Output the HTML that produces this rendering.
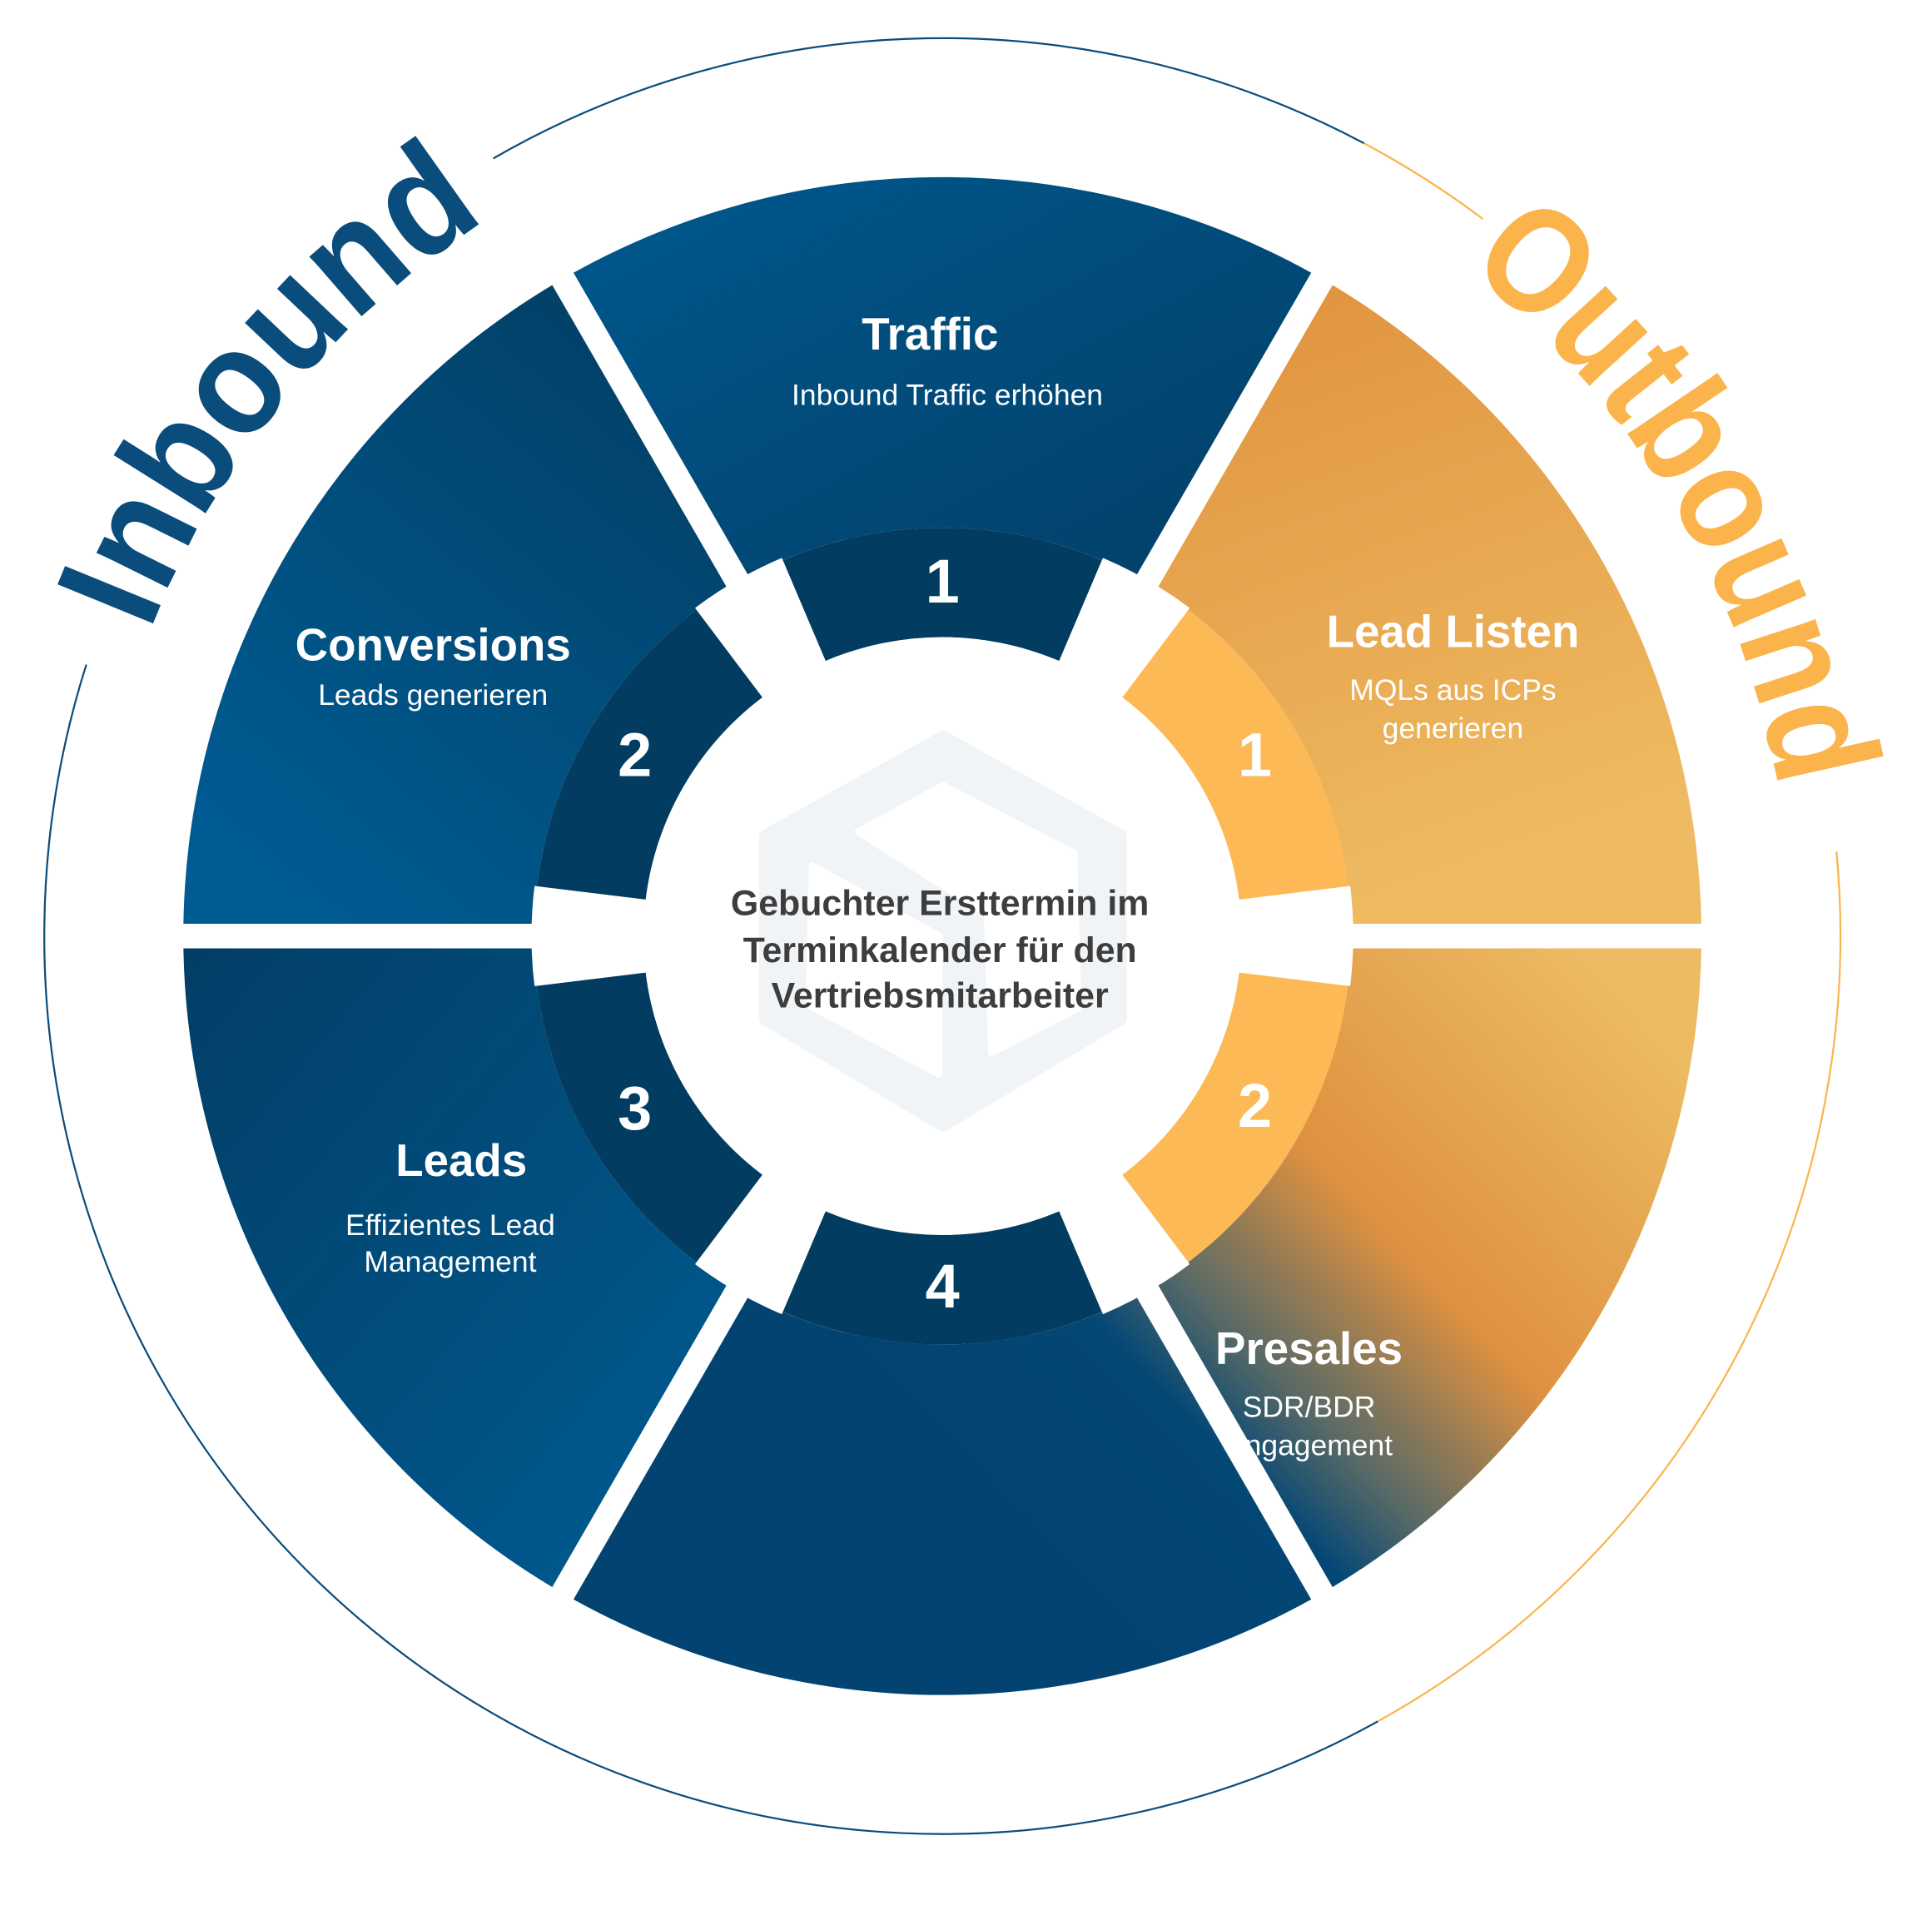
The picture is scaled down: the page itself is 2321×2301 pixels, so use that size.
<!DOCTYPE html>
<html><head><meta charset="utf-8"><style>
html,body{margin:0;padding:0;background:#fff;}
svg{display:block}
text{font-family:"Liberation Sans",sans-serif;}
</style></head><body>
<svg id="s" width="2321" height="2301" viewBox="0 0 1550 1536.6" xmlns="http://www.w3.org/2000/svg">
<defs>
<linearGradient id="gb" x1="0" y1="0" x2="1" y2="1"><stop offset="0" stop-color="#00598f"/><stop offset="1" stop-color="#023e66"/></linearGradient>
<linearGradient id="gb2" x1="1" y1="0" x2="0.3" y2="1"><stop offset="0" stop-color="#023c60"/><stop offset="1" stop-color="#005b92"/></linearGradient>
<linearGradient id="gb3" x1="0" y1="0" x2="1" y2="1"><stop offset="0" stop-color="#023e66"/><stop offset="1" stop-color="#005d94"/></linearGradient>
<linearGradient id="go" x1="0" y1="0" x2="0.3" y2="1"><stop offset="0" stop-color="#e0903c"/><stop offset="1" stop-color="#eebb62"/></linearGradient>
<linearGradient id="gp" gradientUnits="userSpaceOnUse" x1="860" y1="1270" x2="1330" y2="820"><stop offset="0" stop-color="#024372"/><stop offset="0.24" stop-color="#034775"/><stop offset="0.36" stop-color="#5a6a66"/><stop offset="0.58" stop-color="#df9140"/><stop offset="1" stop-color="#ecbb62"/></linearGradient>
</defs>
<g transform="scale(0.987)">
<g id="shapes"></g>
<g fill="#fff" text-anchor="middle">
<text x="756" y="284" font-size="37" font-weight="bold">Traffic</text>
<text x="770" y="329" font-size="24">Inbound Traffic erhöhen</text>
<text x="352" y="537" font-size="37" font-weight="bold">Conversions</text>
<text x="352" y="573" font-size="24">Leads generieren</text>
<text x="1181" y="526" font-size="37" font-weight="bold">Lead Listen</text>
<text x="1181" y="569" font-size="24">MQLs aus ICPs</text>
<text x="1181" y="600" font-size="24">generieren</text>
<text x="375" y="956" font-size="37" font-weight="bold">Leads</text>
<text x="366" y="1004" font-size="24">Effizientes Lead</text>
<text x="366" y="1034" font-size="24">Management</text>
<text x="1064" y="1109" font-size="37" font-weight="bold">Presales</text>
<text x="1064" y="1152" font-size="24">SDR/BDR</text>
<text x="1064" y="1183" font-size="24">Engagement</text>
<g font-size="50" font-weight="bold">
<text x="766" y="490">1</text><text x="516" y="631">2</text><text x="516" y="918">3</text><text x="766" y="1063">4</text>
<text x="1020" y="631">1</text><text x="1020" y="916">2</text>
</g>
</g>
<g fill="#3d3d3d" text-anchor="middle" font-size="29" font-weight="bold">
<text x="764" y="744">Gebuchter Ersttermin im</text>
<text x="764" y="782">Terminkalender für den</text>
<text x="764" y="819">Vertriebsmitarbeiter</text>
</g>
<g font-size="122" font-weight="bold">
<path id="pin" d="" fill="none"/><path id="pout" d="" fill="none"/>
<text fill="#0a4c7c"><textPath href="#pin" textLength="440" lengthAdjust="spacingAndGlyphs">Inbound</textPath></text>
<text fill="#fbb44c"><textPath href="#pout" textLength="506" lengthAdjust="spacingAndGlyphs">Outbound</textPath></text>
</g>
</g>
</svg>
<script>
var cx=766,cy=761;
function P(r,a){a=a*Math.PI/180;return [cx+r*Math.cos(a),cy+r*Math.sin(a)];}
function sec(r1,r2,a1,a2){var l=(a2-a1)>180?1:0;var p1=P(r2,a1),p2=P(r2,a2),p3=P(r1,a2),p4=P(r1,a1);
return "M"+p1+" A"+r2+" "+r2+" 0 "+l+" 1 "+p2+" L"+p3+" A"+r1+" "+r1+" 0 "+l+" 0 "+p4+"Z";}
function arc(r,a1,a2){var l=(a2-a1)>180?1:0;return "M"+P(r,a1)+" A"+r+" "+r+" 0 "+l+" 1 "+P(r,a2);}
var h="";
h+='<path d="'+sec(332,617,240,300)+'" fill="url(#gb)"/>';
h+='<path d="'+sec(332,617,180,240)+'" fill="url(#gb2)"/>';
h+='<path d="'+sec(332,617,120,180)+'" fill="url(#gb3)"/>';
h+='<path d="'+sec(332,617,300,360)+'" fill="url(#go)"/>';
h+='<path d="'+sec(332,617,0,120)+'" fill="url(#gp)"/>';
var ring=[[247,293,"#023c60"],[187,233,"#023c60"],[127,173,"#023c60"],[67,113,"#023c60"],[307,353,"#fdb955"],[7,53,"#fdb955"]];
ring.forEach(function(s){h+='<path d="'+sec(243,332,s[0],s[1])+'" fill="'+s[2]+'"/>';});
[0,60,120,180,240,300].forEach(function(a){
var p1=P(334,a-7),p2=P(334,a+7);
h+='<path d="M'+cx+','+cy+' L'+p1+' A334 334 0 0 1 '+p2+'Z" fill="#fff"/>';
var q=P(640,a);
h+='<line x1="'+cx+'" y1="'+cy+'" x2="'+q[0]+'" y2="'+q[1]+'" stroke="#fff" stroke-width="20"/>';});
h+='<circle cx="'+cx+'" cy="'+cy+'" r="243" fill="#fff"/>';
h+='<path d="M766.6,600 L910,680 L910,828 L766.6,914 L623,828 L623,680Z" fill="#f1f4f7" stroke="#f1f4f7" stroke-width="12" stroke-linejoin="round"/>';
h+='<path d="M697.8,676.2 L766.6,638.9 L872.6,693.6 L876.1,819.5 L806.2,855.6 L802.7,742.6Z" fill="#fff" stroke="#fff" stroke-width="6" stroke-linejoin="round"/>';
h+='<path d="M660.5,704.1 L657.7,817.1 L763.1,873 L763.1,761.2Z" fill="#fff" stroke="#fff" stroke-width="6" stroke-linejoin="round"/>';
h+='<path d="'+arc(730,240,298)+'" fill="none" stroke="#0a4c7c" stroke-width="1.5"/>';
h+='<path d="'+arc(730,298,307)+'" fill="none" stroke="#fbb44c" stroke-width="1.5"/>';
h+='<path d="'+arc(730,354.6,421)+'" fill="none" stroke="#fbb44c" stroke-width="1.5"/>';
h+='<path d="'+arc(730,61,197.6)+'" fill="none" stroke="#0a4c7c" stroke-width="1.5"/>';
document.getElementById("shapes").innerHTML=h;
document.getElementById("pin").setAttribute("d",arc(690,201,260));
document.getElementById("pout").setAttribute("d",arc(690,308,380));
</script>
</body></html>
